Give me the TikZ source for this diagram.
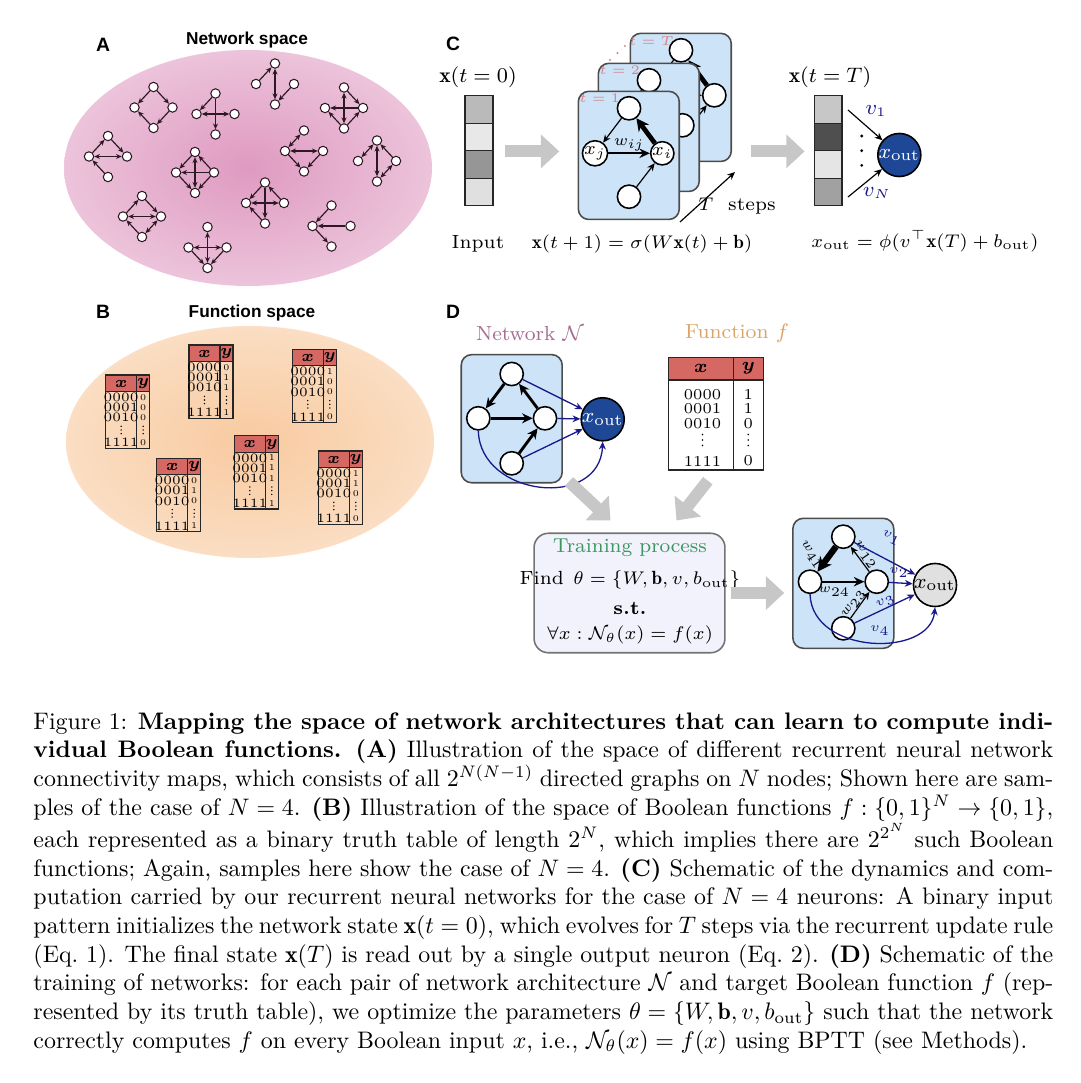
\documentclass[tikz,border=0pt]{standalone}
\usepackage{fontspec}
\usepackage{amsmath,amssymb}
\usetikzlibrary{arrows.meta, positioning, calc}
\newfontfamily\headfont{Liberation Sans}
\definecolor{netpink}{RGB}{212,120,172}
\definecolor{funcorange}{RGB}{245,180,120}
\definecolor{cardblue}{RGB}{205,227,247}
\definecolor{outblue}{RGB}{30,72,150}
\definecolor{wnavy}{RGB}{25,25,140}
\definecolor{hdred}{RGB}{214,104,100}
\definecolor{tpink}{RGB}{214,130,140}
\definecolor{netmauve}{RGB}{165,110,145}
\definecolor{functan}{RGB}{218,165,105}
\definecolor{traingreen}{RGB}{60,150,95}
\definecolor{trainbg}{RGB}{242,242,252}
\definecolor{edgedark}{RGB}{45,25,35}
\pgfdeclareradialshading{netglow}{\pgfpointorigin}{color(0bp)=(netpink!75!white); color(22bp)=(netpink!48!white); color(38bp)=(netpink!26!white); color(46bp)=(netpink!12!white); color(50bp)=(netpink!2!white)}
\pgfdeclareradialshading{funcglow}{\pgfpointorigin}{color(0bp)=(funcorange!70!white); color(22bp)=(funcorange!48!white); color(38bp)=(funcorange!28!white); color(46bp)=(funcorange!13!white); color(50bp)=(funcorange!2!white)}

% one small 4-node graph of panel A
\newcommand{\fourgraph}[4]{%
  \node[anode] (#1t) at (#2,#3-20.5) {};
  \node[anode] (#1l) at (#2-19,#3) {};
  \node[anode] (#1r) at (#2+19,#3) {};
  \node[anode] (#1b) at (#2,#3+20.5) {};
  \foreach \p/\q/\s in {#4} \draw[\s] (#1\p) -- (#1\q);
}
% one small truth table of panel B
\newcommand{\truthtab}[7]{%
  \begin{scope}[shift={(#2,#3)}]
    \fill[hdred] (0,0) rectangle (44,16.5);
    \draw[tabline] (0,0) rectangle (44,73.3) (0,16.5) -- (44,16.5) (31,0) -- (31,73.3);
    \node[minihead] (#1x) at (15.5,8.6) {$\boldsymbol{x}$};
    \node[minihead] (#1y) at (37.5,8.6) {$\boldsymbol{y}$};
    \foreach \r/\s/\v [count=\k] in {22.3/0000/#4, 32.3/0001/#5, 42.7/0010/#6, 67.7/1111/#7} {
      \node[minirow] (#1a\k) at (15.5,\r) {\s};
      \node[minival] (#1b\k) at (37.5,\r) {\v};
    }
    \foreach \c in {15.5,37.5} \foreach \d in {51.3,55,58.7} \fill (\c,\d) circle (0.3pt);
  \end{scope}}

\begin{document}
\begin{tikzpicture}[x=0.3824pt, y=-0.3824pt, font=\fontsize{7.3}{8.8}\selectfont,
  paneltag/.style={font=\headfont\bfseries\fontsize{7.4}{8}\selectfont, inner sep=0pt},
  paneltitle/.style={font=\headfont\bfseries\fontsize{6.6}{8}\selectfont, inner sep=0pt},
  anode/.style={circle, draw=edgedark, fill=white, line width=0.4pt, inner sep=0pt, minimum size=3.6pt},
  fwd/.style={draw=edgedark, line width=0.45pt, -{Stealth[length=2.2pt,width=1.9pt]}},
  bidir/.style={draw=edgedark, line width=0.45pt, {Stealth[length=2.2pt,width=1.9pt]}-{Stealth[length=2.2pt,width=1.9pt]}},
  tabline/.style={draw=black!85, line width=0.4pt},
  minihead/.style={font=\fontsize{6.3}{6.3}\selectfont, inner sep=0pt},
  minirow/.style={font=\fontsize{4.9}{4.9}\selectfont, inner sep=0pt},
  minival/.style={font=\fontsize{3.4}{3.4}\selectfont, inner sep=0pt},
  lbl/.style={inner sep=0pt},
  bigl/.style={inner sep=0pt, font=\fontsize{8.2}{9}\selectfont},
  cell/.style={draw=black!85, line width=0.5pt, minimum width=10.6pt, minimum height=10.5pt, inner sep=0pt},
  card/.style={draw=black!70, line width=0.6pt, fill=cardblue, rounded corners=4pt, minimum width=38.6pt, minimum height=49pt, inner sep=0pt},
  neuron/.style={circle, draw=black, fill=white, line width=0.6pt, minimum size=8.9pt, inner sep=0pt, font=\fontsize{7}{7}\selectfont},
  outnode/.style={circle, draw=black, fill=outblue, text=white, line width=0.6pt, minimum size=15.9pt, inner sep=0pt, font=\fontsize{8}{8}\selectfont},
  steplbl/.style={text=tpink, inner sep=0pt, font=\fontsize{5.4}{6}\selectfont},
  thinarr/.style={line width=0.45pt, -{Stealth[length=3pt,width=2.6pt]}},
  midarr/.style={line width=0.9pt, -{Stealth[length=4pt,width=3.6pt]}},
  thickarr/.style={line width=1.8pt, -{Stealth[length=4.8pt,width=4.8pt]}},
  heavyarr/.style={line width=2.4pt, -{Stealth[length=5.5pt,width=5.5pt]}},
  boldarr/.style={line width=1.1pt, -{Stealth[length=4pt,width=3.8pt]}},
  navyarr/.style={draw=wnavy, line width=0.5pt, -{Stealth[length=3pt,width=2.6pt]}},
  wlbl/.style={inner sep=0pt, font=\fontsize{5}{6}\selectfont},
  vlbl/.style={inner sep=0pt, text=wnavy, font=\fontsize{5.4}{6}\selectfont},
  bigarrow/.style={draw=black!22, line width=4.6pt, -{Triangle[length=7pt,width=12.5pt]}},
  trainbox/.style={draw=black!55, line width=0.6pt, fill=trainbg, rounded corners=5.5pt, minimum width=73pt, minimum height=45.7pt, inner sep=0pt}]
\useasboundingbox (0,0) rectangle (1080,1083);

% ---------- A
\node[paneltag] (tagA) at (103,45) {A};
\node[paneltitle] (titA) at (247,40) {Network space};
\shade[shading=netglow] (248,168) ellipse [x radius=184, y radius=118];
\fourgraph{ga}{153.5}{107.5}{t/l/fwd, t/r/fwd, r/b/fwd, b/l/fwd}
\fourgraph{gb}{215.5}{114}{t/l/fwd, l/r/bidir, t/b/fwd}
\fourgraph{gc}{275}{84}{l/t/fwd, t/b/bidir, r/b/fwd}
\fourgraph{gd}{344}{108}{t/r/fwd, t/b/bidir, r/l/fwd, b/l/fwd, b/r/fwd}
\fourgraph{ge}{108}{156.5}{l/t/fwd, t/r/fwd, l/r/bidir, b/l/fwd}
\fourgraph{gf}{195}{172.5}{t/l/fwd, r/t/fwd, t/b/bidir, r/l/fwd, l/b/fwd, r/b/fwd}
\fourgraph{gg}{304}{151}{t/l/bidir, l/r/bidir, l/b/fwd, r/b/fwd}
\fourgraph{gh}{377}{161}{t/l/bidir, r/t/fwd, t/b/bidir, r/b/bidir}
\fourgraph{gi}{142}{216.5}{l/t/fwd, t/r/fwd, l/r/bidir, b/l/fwd, r/b/bidir}
\fourgraph{gj}{265}{203}{t/l/fwd, r/t/fwd, t/b/fwd, l/r/bidir, b/l/fwd}
\fourgraph{gk}{207.5}{247.5}{t/b/bidir, l/r/bidir, l/b/fwd, r/b/fwd}
\fourgraph{gl}{331.5}{226}{t/l/fwd, r/l/fwd, l/b/fwd}

% ---------- B
\node[paneltag] (tagB) at (103,312) {B};
\node[paneltitle] (titB) at (252,313) {Function space};
\shade[shading=funcglow] (250,442) ellipse [x radius=184, y radius=116];
\truthtab{ta}{105.7}{375}{0}{0}{0}{0}
\truthtab{tb}{189}{345}{0}{1}{1}{1}
\truthtab{tc}{292.3}{349.3}{1}{0}{0}{0}
\truthtab{td}{156.7}{458.3}{0}{1}{0}{1}
\truthtab{te}{234.3}{435.7}{1}{1}{1}{1}
\truthtab{tf}{318.3}{451}{1}{1}{0}{0}

% ---------- C
\node[paneltag] (tagC) at (453,44) {C};
\node[bigl] (xinlbl) at (478,77) {$\mathbf{x}(t=0)$};
\foreach \i/\g in {1/27,2/9,3/41,4/12}
  \node[cell, fill=black!\g] (xin\i) at (479,{82+27.5*\i}) {};
\node[lbl] (inplbl) at (478,244) {Input};

\foreach \k/\dx/\dy/\lab in {3/52/58/T, 2/20/28/2} {
  \node[card] (card\k) at (628.8+\dx,155.4-\dy) {};
  \node[steplbl] (lbl\k) at ($(card\k.north west)+(22,8)$) {$t=\lab$};
  \node[neuron] (ct\k) at (629+\dx,108.3-\dy) {};
  \node[neuron] (cl\k) at (595+\dx,153.3-\dy) {};
  \node[neuron] (cr\k) at (662.3+\dx,153.3-\dy) {};
  \node[neuron] (cb\k) at (629+\dx,196.7-\dy) {};
  \draw[thinarr] (ct\k) -- (cl\k);
  \draw[midarr] (cl\k) -- (cr\k);
  \draw[thickarr] (cr\k) -- (ct\k);
  \draw[thinarr] (cb\k) -- (cr\k);
}
\foreach \a/\b in {610/60, 617.5/53, 625/46} \fill[tpink] (\a,\b) circle (0.45pt);
\node[card] (card1) at (628.8,155.4) {};
\node[steplbl] (lbl1) at ($(card1.north west)+(22,8)$) {$t=1$};
\node[neuron] (ct1) at (629,108.3) {};
\node[neuron] (cl1) at (595,153.3) {$x_j$};
\node[neuron] (cr1) at (662.3,153.3) {$x_i$};
\node[neuron] (cb1) at (629,196.7) {};
\draw[thinarr] (ct1) -- (cl1);
\draw[midarr] (cl1) -- node[above=0.3pt, wlbl, font=\fontsize{5.8}{6}\selectfont] (wij) {$w_{ij}$} (cr1);
\draw[thickarr] (cr1) -- (ct1);
\draw[thinarr] (cb1) -- (cr1);

\coordinate (tsA) at (680,222);
\coordinate (tsB) at (735,172);
\draw[thinarr] (tsA) -- (tsB);
\node[lbl] (tslbl) at (737,206) {$T$\ \ steps};
\node[lbl] (update) at (642,244) {$\mathbf{x}(t+1)=\sigma(W\mathbf{x}(t)+\mathbf{b})$};

\node[bigl] (xoutlbl) at (830,77) {$\mathbf{x}(t=T)$};
\foreach \i/\g in {1/22,2/69,3/10,4/37}
  \node[cell, fill=black!\g] (xout\i) at (828,{82+27.5*\i}) {};
\node[outnode] (cout) at (899.3,155) {$x_{\mathrm{out}}$};
\coordinate (v1s) at (848,110);
\coordinate (vNs) at (848,197);
\draw[thinarr] (v1s) -- (cout);
\draw[thinarr] (vNs) -- (cout);
\node[vlbl, font=\fontsize{7.6}{8}\selectfont] (v1lbl) at (876,111) {$v_1$};
\node[vlbl, font=\fontsize{7.6}{8}\selectfont] (vNlbl) at (877,193) {$v_N$};
\foreach \d in {136,150.7,165.4} \fill (861.7,\d) circle (0.6pt);
\node[lbl] (readout) at (925,241) {$x_{\mathrm{out}}=\phi(v^{\top}\mathbf{x}(T)+b_{\mathrm{out}})$};

\draw[bigarrow, shorten <=4.5pt, shorten >=7pt] (xin2.south east) -- (xin2.south east -| card1.west);
\draw[bigarrow, shorten <=7.3pt, shorten >=3.4pt] (xout2.south west -| card3.east) -- (xout2.south west);

% ---------- D
\node[paneltag] (tagD) at (453,312) {D};
\node[lbl, text=netmauve, font=\fontsize{7.8}{9}\selectfont] (netlbl) at (530,333) {Network $\mathcal{N}$};
\node[lbl, text=functan, font=\fontsize{7.8}{9}\selectfont] (funlbl) at (737,333) {Function $f$};

\node[card] (dnet) at (511.7,418.7) {};
\node[neuron] (dt) at (511.7,374) {};
\node[neuron] (dl) at (478.3,418.3) {};
\node[neuron] (dr) at (545,418.3) {};
\node[neuron] (db) at (511.7,463.3) {};
\node[outnode] (dout) at (602.7,419.3) {$x_{\mathrm{out}}$};
\draw[boldarr] (dt) -- (dl);
\draw[boldarr] (dl) -- (dr);
\draw[boldarr] (dr) -- (dt);
\draw[boldarr] (db) -- (dr);
\draw[navyarr] (dt) -- (dout);
\draw[navyarr] (dr) -- (dout);
\draw[navyarr] (db) -- (dout);
\draw[navyarr] (dl.south) .. controls (480,497) and (600,510) .. (dout.south);

\fill[hdred] (668.3,357.3) rectangle (763.3,380);
\node[draw=black!85, line width=0.5pt, minimum width=36.3pt, minimum height=43.1pt, inner sep=0pt] (dtab) at (715.8,413.65) {};
\draw[tabline] (668.3,380) -- (763.3,380) (733.3,357.3) -- (733.3,470);
\node[lbl, font=\fontsize{7}{7}\selectfont] (dtabx) at (700.8,368.7) {$\boldsymbol{x}$};
\node[lbl, font=\fontsize{7}{7}\selectfont] (dtaby) at (748.3,368.7) {$\boldsymbol{y}$};
\foreach \r/\s/\v [count=\k] in {394.3/0000/1, 408.3/0001/1, 424/0010/0, 461/1111/0} {
  \node[lbl, font=\fontsize{5.8}{6}\selectfont] (drow\k) at (702.5,\r) {\s};
  \node[lbl, font=\fontsize{5.8}{6}\selectfont] (dval\k) at (748.3,\r) {\v};
}
\foreach \c in {702.5,748.3} \foreach \d in {434.5,440,445.5} \fill (\c,\d) circle (0.35pt);

\node[trainbox] (train) at (629.5,593) {};
\node[lbl, text=traingreen, font=\fontsize{7.7}{9}\selectfont] (trainttl) at (630,547.7) {Training process};
\node[lbl] (trainfind) at (630,580) {Find\enspace$\theta=\{W,\mathbf{b},v,b_{\mathrm{out}}\}$};
\node[lbl] (trainst) at (630,608) {\textbf{s.t.}};
\node[lbl] (trainall) at (630,635) {$\forall x:\mathcal{N}_{\theta}(x)=f(x)$};

\draw[bigarrow] ($(dnet.south east)+(6,-2)$) -- ($(train.north)+(-19,-12)$);
\draw[bigarrow] ($(dtab.south)+(-8,10)$) -- ($(train.north)+(47,-12)$);

\node[card, minimum height=49.7pt] (dfin) at (843.3,583.3) {};
\draw[bigarrow, shorten <=2pt, shorten >=3pt] (train.east) -- (train.east -| dfin.west);
\node[neuron] (ft) at (843.3,536.7) {};
\node[neuron] (fl) at (810,581.7) {};
\node[neuron] (fr) at (876.7,581.7) {};
\node[neuron] (fb) at (843.3,628.3) {};
\node[outnode, fill=black!12, text=black] (fout) at (935,585) {$x_{\mathrm{out}}$};
\draw[heavyarr] (ft) -- (fl);
\draw[midarr] (fl) -- (fr);
\draw[thinarr] (fr) -- (ft);
\draw[thinarr] (fb) -- (fr);
\node[wlbl, rotate=-55] (w41) at (811,555) {$w_{41}$};
\node[wlbl, rotate=-55] (w12) at (865,555) {$w_{12}$};
\node[wlbl, rotate=55] (w23) at (854,604) {$w_{23}$};
\node[wlbl] (w24) at (834,592) {$w_{24}$};
\draw[navyarr] (ft) -- (fout);
\draw[navyarr] (fr) -- (fout);
\draw[navyarr] (fb) -- (fout);
\draw[navyarr] (fl.south) .. controls (812,655) and (930,658) .. (fout.south);
\node[vlbl, rotate=-25] (v1f) at (891,538) {$v_1$};
\node[vlbl] (v2f) at (899,573) {$v_2$};
\node[vlbl, rotate=28] (v3f) at (886,602) {$v_3$};
\node[vlbl] (v4f) at (880,631) {$v_4$};

% ---------- caption
\node[anchor=north west, inner sep=0pt, scale=0.9133, text width=427pt, align=justify, font=\fontsize{10}{12}\selectfont] (caption) at (33,712) {Figure 1: \textbf{Mapping the space of network architectures that can learn to compute indi-\linebreak vidual Boolean functions.} \textbf{(A)} Illustration of the space of different recurrent neural network\linebreak connectivity maps, which consists of all $2^{N(N-1)}$ directed graphs on $N$ nodes; Shown here are sam-\linebreak ples of the case of $N=4$. \textbf{(B)} Illustration of the space of Boolean functions $f:\{0,1\}^N\rightarrow\{0,1\}$,\linebreak each represented as a binary truth table of length $2^N$, which implies there are $2^{2^N}$ such Boolean\linebreak functions; Again, samples here show the case of $N=4$. \textbf{(C)} Schematic of the dynamics and com-\linebreak putation carried by our recurrent neural networks for the case of $N=4$ neurons: A binary input\linebreak pattern initializes the network state $\mathbf{x}(t=0)$, which evolves for $T$ steps via the recurrent update rule\linebreak (Eq.~1). The final state $\mathbf{x}(T)$ is read out by a single output neuron (Eq.~2). \textbf{(D)} Schematic of the\linebreak training of networks: for each pair of network architecture $\mathcal{N}$ and target Boolean function $f$ (rep-\linebreak resented by its truth table), we optimize the parameters $\theta=\{W,\mathbf{b},v,b_{\mathrm{out}}\}$ such that the network\linebreak correctly computes $f$ on every Boolean input $x$, i.e., $\mathcal{N}_\theta(x)=f(x)$ using BPTT (see Methods).};
\end{tikzpicture}
\end{document}
